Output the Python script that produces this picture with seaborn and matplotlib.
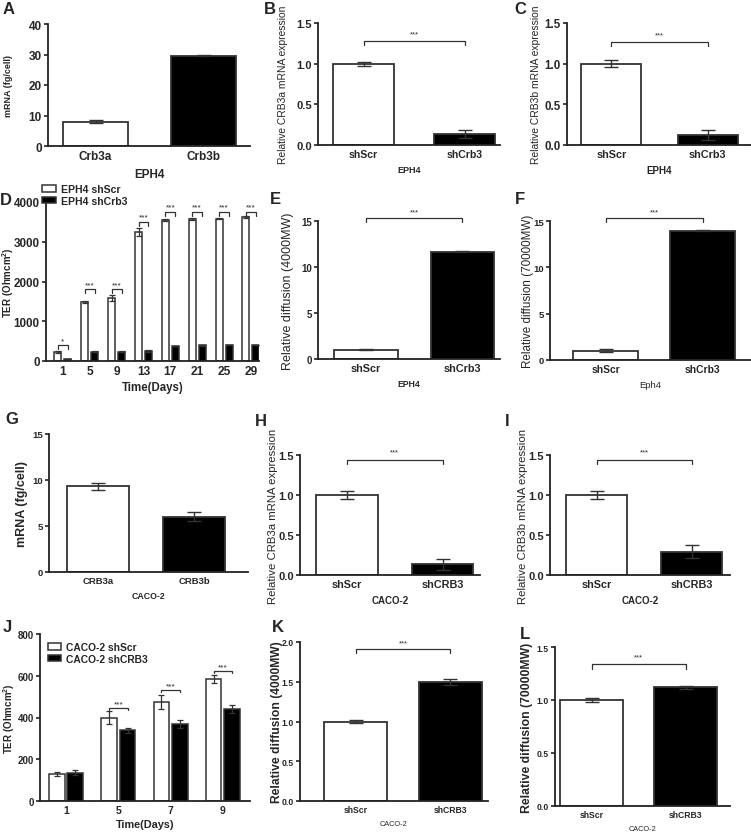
import numpy as np
import pandas as pd
import seaborn as sns
import matplotlib.pyplot as plt
import matplotlib.transforms as mtransforms

# A - absolute mRNA, EPH4
a_cats = ['Crb3a', 'Crb3b']
a_vals = [8.0, 29.6]
a_errs = [0.55, 0.2]

# B / C - relative expression, EPH4
eph_cats = ['shScr', 'shCrb3']
b_vals = [1.0, 0.14]
b_errs = [0.025, 0.05]
c_vals = [1.0, 0.12]
c_errs = [0.045, 0.06]

# D - TER, EPH4
d_days = ['1', '5', '9', '13', '17', '21', '25', '29']
d_scr = [230, 1490, 1580, 3240, 3550, 3575, 3580, 3620]
d_scr_err = [20, 30, 75, 100, 20, 20, 20, 20]
d_crb = [45, 230, 235, 250, 380, 390, 400, 410]
d_crb_err = [5, 10, 10, 15, 5, 5, 5, 5]
d_stars = ['*', '***', '***', '***', '***', '***', '***', '***']
d_brk = [400, 1800, 1800, 3500, 3750, 3750, 3750, 3750]

# E / F - diffusion, EPH4
e_vals = [1.0, 11.65]
e_errs = [0.05, 0.05]
f_vals = [1.0, 13.95]
f_errs = [0.17, 0.05]

# G - absolute mRNA, CACO-2
g_cats = ['CRB3a', 'CRB3b']
g_vals = [9.3, 6.0]
g_errs = [0.4, 0.47]

# H / I - relative expression, CACO-2
caco_cats = ['shScr', 'shCRB3']
h_vals = [1.0, 0.135]
h_errs = [0.046, 0.07]
i_vals = [1.0, 0.29]
i_errs = [0.046, 0.08]

# J - TER, CACO-2
j_days = ['1', '5', '7', '9']
j_scr = [130, 400, 475, 585]
j_scr_err = [8, 30, 35, 20]
j_crb = [135, 340, 370, 440]
j_crb_err = [12, 12, 18, 18]
j_stars = ['', '***', '***', '***']
j_brk = [0, 445, 532, 621]

# K / L - diffusion, CACO-2
k_vals = [1.0, 1.5]
k_errs = [0.015, 0.035]
l_vals = [1.0, 1.12]
l_errs = [0.02, 0.015]

sns.set_theme(style='ticks')
plt.rcParams['font.family'] = ['Liberation Sans', 'DejaVu Sans']
plt.rcParams['mathtext.fontset'] = 'custom'
plt.rcParams['mathtext.bf'] = 'Liberation Sans:bold'
plt.rcParams['mathtext.rm'] = 'Liberation Sans'

W, H = 751, 837
fig = plt.figure(figsize=(W / 100, H / 100), dpi=100)
EDGE = '#333333'


def add_ax(l, r, t, b):
    return fig.add_axes([l / W, 1 - b / H, (r - l) / W, (b - t) / H])


def letter(x, y, s):
    fig.text(x / W, 1 - y / H, s, fontsize=12, fontweight='bold', va='center', ha='left')


def place_ylabel(ax, text, px, size, weight):
    ax.set_ylabel(text, fontsize=size, fontweight=weight, va='center')
    tr = mtransforms.blended_transform_factory(fig.transFigure, ax.transAxes)
    ax.yaxis.set_label_coords(px / W, 0.5, transform=tr)


def style(ax, ymax, step, fmt, tsize):
    ax.set_ylim(0, ymax)
    ticks = np.arange(0, ymax + step / 2, step)
    ax.set_yticks(ticks)
    ax.set_yticklabels([fmt.format(t) for t in ticks], fontsize=tsize, fontweight='bold')
    for s in ['top', 'right']:
        ax.spines[s].set_visible(False)
    for s in ['left', 'bottom']:
        ax.spines[s].set_linewidth(1.3)
        ax.spines[s].set_color('#222222')
    ax.tick_params(axis='x', length=0, pad=3)
    ax.tick_params(axis='y', length=3, width=1.2, pad=1.5, color='#222222')
    ax.set_facecolor('white')


def bracket(ax, x0, x1, y, drop, text, size=5.5, tgap=None):
    ax.plot([x0, x0, x1, x1], [y - drop, y, y, y - drop], color=EDGE, lw=0.9, clip_on=False)
    if text:
        ax.text((x0 + x1) / 2, y + (tgap if tgap is not None else drop * 0.3), text,
                ha='center', va='bottom', fontsize=size, clip_on=False)


def two_bar(box, cats, vals, errs, xlim, ymax, step, fmt, ylabel, ylx, xlabel,
            ylsize=7, ylweight='normal', tsize=7, xtsize=7, xlsize=6.5, xlweight='bold',
            brk=None, width=0.64):
    ax = add_ax(*box)
    sns.barplot(x=cats, y=vals, hue=cats, palette=['white', 'black'], width=width,
                edgecolor=EDGE, linewidth=1.3, legend=False, ax=ax, errorbar=None)
    ax.errorbar(range(len(vals)), vals, yerr=errs, fmt='none', ecolor=EDGE,
                elinewidth=1.0, capsize=5, capthick=1.0, zorder=5)
    ax.set_xlim(*xlim)
    style(ax, ymax, step, fmt, tsize)
    ax.set_xticks(range(len(cats)))
    ax.set_xticklabels(cats, fontsize=xtsize, fontweight='bold')
    place_ylabel(ax, ylabel, ylx, ylsize, ylweight)
    ax.set_xlabel(xlabel, fontsize=xlsize, fontweight=xlweight, labelpad=4)
    if brk is not None:
        bracket(ax, 0, 1, brk[0], brk[1], '***', tgap=brk[2])
    return ax


def grouped(box, days, scr, scr_err, crb, crb_err, labels, xlim, ymax, step,
            width, gap, stars, brk, drop, legend_pos, legsize, tsize, xtsize, xlsize, ylx):
    ax = add_ax(*box)
    df = pd.DataFrame({
        'day': days * 2,
        'ter': scr + crb,
        'grp': [labels[0]] * len(days) + [labels[1]] * len(days),
    })
    sns.barplot(data=df, x='day', y='ter', hue='grp', palette=['white', 'black'],
                width=width, gap=gap, edgecolor=EDGE, linewidth=1.1, errorbar=None, ax=ax)
    for cont, errs in zip(ax.containers, [scr_err, crb_err]):
        xs = [p.get_x() + p.get_width() / 2 for p in cont]
        hs = [p.get_height() for p in cont]
        ax.errorbar(xs, hs, yerr=errs, fmt='none', ecolor=EDGE, elinewidth=0.9,
                    capsize=2.5, capthick=0.9, zorder=5)
    x_scr = [p.get_x() + p.get_width() / 2 for p in ax.containers[0]]
    x_crb = [p.get_x() + p.get_width() / 2 for p in ax.containers[1]]
    for x0, x1, s, y in zip(x_scr, x_crb, stars, brk):
        if s:
            bracket(ax, x0, x1, y, drop, s, size=6)
    ax.set_xlim(*xlim)
    style(ax, ymax, step, '{:.0f}', tsize)
    ax.set_xticks(range(len(days)))
    ax.set_xticklabels(days, fontsize=xtsize, fontweight='bold')
    place_ylabel(ax, r'TER (Ohmcm$\mathbf{^2}$)', ylx, 7, 'bold')
    ax.set_xlabel('Time(Days)', fontsize=xlsize, fontweight='bold', labelpad=3)
    ax.legend(loc='upper left', bbox_to_anchor=(legend_pos[0] / W, 1 - legend_pos[1] / H),
              bbox_transform=fig.transFigure, frameon=False,
              prop={'weight': 'bold', 'size': legsize}, handlelength=1.3, handleheight=0.6,
              handletextpad=0.5, labelspacing=0.15, borderpad=0, borderaxespad=0)
    return ax


# row 1
two_bar((48, 250, 25, 147), a_cats, a_vals, a_errs, (-0.44, 1.43), 40, 10, '{:.0f}',
        'mRNA (fg/cell)', 9, 'EPH4', ylsize=6.5, ylweight='bold', tsize=8.5, xtsize=8.5,
        xlsize=8.5, width=0.6)
two_bar((318, 500, 24, 146), eph_cats, b_vals, b_errs, (-0.45, 1.35), 1.5, 0.5, '{:.1f}',
        'Relative CRB3a mRNA expression', 283, 'EPH4', ylsize=7.4, tsize=8, xtsize=7.6,
        xlsize=6.5, brk=(1.28, 0.05, 0.04), width=0.6)
two_bar((567, 751, 24, 146), eph_cats, c_vals, c_errs, (-0.46, 1.45), 1.5, 0.5, '{:.1f}',
        'Relative CRB3b mRNA expression', 536, 'EPH4', ylsize=7.4, tsize=8.3, xtsize=7.8,
        xlsize=7, brk=(1.27, 0.05, 0.04), width=0.62)

# row 2
grouped((46, 259, 203, 362), d_days, d_scr, d_scr_err, d_crb, d_crb_err,
        ['EPH4 shScr', 'EPH4 shCrb3'], (-0.63, 7.3), 4000, 1000, 0.74, 0.3,
        d_stars, d_brk, 100, (42, 185), 7.6, 8.4, 8.6, 8.3, 8)
two_bar((318, 500, 222, 360), eph_cats, e_vals, e_errs, (-0.5, 1.39), 15, 5, '{:.0f}',
        'Relative diffusion (4000MW)', 288, 'EPH4', ylsize=9, tsize=7, xtsize=7.8,
        xlsize=6.2, brk=(15.3, 0.4, 0.3), width=0.66)
two_bar((550, 751, 222, 361), eph_cats, f_vals, f_errs, (-0.575, 1.5), 15, 5, '{:.0f}',
        'Relative diffusion (70000MW)', 528, 'Eph4', ylsize=8.4, tsize=6.8, xtsize=7.4,
        xlsize=6.8, xlweight='normal', brk=(15.3, 0.4, 0.3), width=0.67)

# row 3
two_bar((49, 248, 435, 573), g_cats, g_vals, g_errs, (-0.51, 1.56), 15, 5, '{:.0f}',
        'mRNA (fg/cell)', 22, 'CACO-2', ylsize=9, ylweight='bold', tsize=6.8, xtsize=6.8,
        xlsize=6.3, width=0.65)
two_bar((300, 480, 456, 576), caco_cats, h_vals, h_errs, (-0.49, 1.39), 1.5, 0.5, '{:.1f}',
        'Relative CRB3a mRNA expression', 273, 'CACO-2', ylsize=8.2, tsize=8, xtsize=7.8,
        xlsize=7, brk=(1.44, 0.05, 0.05), width=0.64)
two_bar((550, 730, 456, 576), caco_cats, i_vals, i_errs, (-0.49, 1.4), 1.5, 0.5, '{:.1f}',
        'Relative CRB3b mRNA expression', 523, 'CACO-2', ylsize=8.2, tsize=8, xtsize=7.8,
        xlsize=7, brk=(1.44, 0.05, 0.05), width=0.64)

# row 4
grouped((40, 250, 635, 802), j_days, j_scr, j_scr_err, j_crb, j_crb_err,
        ['CACO-2 shScr', 'CACO-2 shCRB3'], (-0.5, 3.52), 800, 200, 0.7, 0.15,
        j_stars, j_brk, 8, (48, 643), 7.4, 7, 7.5, 7.8, 9)
two_bar((300, 488, 643, 802), caco_cats, k_vals, k_errs, (-0.59, 1.4), 2.0, 0.5, '{:.1f}',
        'Relative diffusion (4000MW)', 277, 'CACO-2', ylsize=8.7, ylweight='bold', tsize=6.2,
        xtsize=6.2, xlsize=5.3, xlweight='normal', brk=(1.91, 0.05, 0.04), width=0.67)
two_bar((555, 730, 648, 807), caco_cats, l_vals, l_errs, (-0.39, 1.47), 1.5, 0.5, '{:.1f}',
        'Relative diffusion (70000MW)', 527, 'CACO-2', ylsize=8.8, ylweight='bold', tsize=6.2,
        xtsize=6.2, xlsize=5.3, xlweight='normal', brk=(1.34, 0.05, 0.03), width=0.67)

for x, y, s in [(3, 9, 'A'), (264, 9, 'B'), (514, 9, 'C'), (0, 201, 'D'), (270, 200, 'E'),
                (515, 200, 'F'), (5, 420, 'G'), (255, 422, 'H'), (505, 422, 'I'),
                (3, 628, 'J'), (272, 628, 'K'), (520, 635, 'L')]:
    letter(x, y, s)

fig.savefig('out.png', dpi=100, facecolor='white')
